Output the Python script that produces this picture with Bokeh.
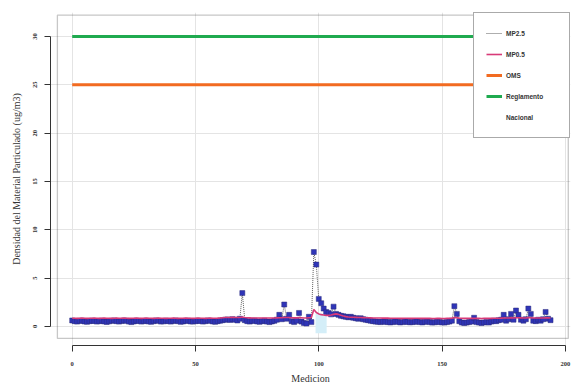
from bokeh.plotting import figure
from bokeh.models import Range1d, FixedTicker, BoxAnnotation, Legend, LegendItem, ColumnDataSource
from bokeh.embed import file_html
from bokeh.resources import INLINE

# ---- data ----
mp25 = [
    0.62, 0.55, 0.50, 0.58, 0.60, 0.52, 0.48, 0.55, 0.60, 0.57,
    0.50, 0.55, 0.60, 0.52, 0.47, 0.53, 0.58, 0.62, 0.55, 0.50,
    0.56, 0.62, 0.58, 0.50, 0.45, 0.52, 0.60, 0.57, 0.50, 0.55,
    0.60, 0.52, 0.48, 0.55, 0.62, 0.58, 0.50, 0.53, 0.60, 0.55,
    0.50, 0.56, 0.62, 0.55, 0.48, 0.52, 0.58, 0.60, 0.52, 0.50,
    0.55, 0.60, 0.57, 0.50, 0.55, 0.62, 0.58, 0.52, 0.48, 0.55,
    0.60, 0.65, 0.70, 0.72, 0.68, 0.75, 0.70, 0.62, 0.80, 3.45,
    0.65, 0.55, 0.50, 0.58, 0.60, 0.52, 0.48, 0.55, 0.60, 0.50,
    0.45, 0.52, 0.58, 0.70, 1.20, 0.75, 2.27, 0.80, 1.20, 0.55,
    0.45, 0.60, 1.40, 0.50, 0.35, 0.30, 1.00, 0.45, 7.70, 6.40,
    2.85, 2.40, 1.85, 1.50, 1.40, 1.25, 2.05, 1.30, 1.20, 1.10,
    1.05, 1.00, 0.95, 1.00, 0.90, 0.85, 0.80, 0.85, 0.75, 0.70,
    0.65, 0.60, 0.55, 0.50, 0.48, 0.45, 0.50, 0.48, 0.45, 0.42,
    0.45, 0.50, 0.48, 0.42, 0.45, 0.50, 0.47, 0.43, 0.45, 0.48,
    0.50, 0.45, 0.42, 0.48, 0.50, 0.45, 0.40, 0.43, 0.48, 0.45,
    0.42, 0.40, 0.45, 0.50, 0.60, 2.10, 1.30, 0.55, 0.40, 0.35,
    0.40, 0.45, 0.50, 0.90, 0.45, 0.40, 0.35, 0.42, 0.45, 0.40,
    0.50, 0.60, 0.55, 0.65, 0.70, 1.20, 0.60, 0.75, 1.30, 0.70,
    1.65, 1.20, 0.70, 0.60, 0.75, 1.85, 1.30, 0.60, 0.55, 0.70,
    0.60, 0.75, 1.50, 0.80, 0.65,
]
mp05 = [
    0.85, 0.85, 0.84, 0.85, 0.86, 0.85, 0.84, 0.85, 0.85, 0.86,
    0.85, 0.84, 0.85, 0.86, 0.85, 0.85, 0.84, 0.85, 0.86, 0.85,
    0.85, 0.86, 0.85, 0.84, 0.85, 0.85, 0.86, 0.85, 0.84, 0.85,
    0.86, 0.85, 0.85, 0.84, 0.85, 0.86, 0.85, 0.85, 0.84, 0.85,
    0.85, 0.86, 0.85, 0.84, 0.85, 0.85, 0.86, 0.85, 0.85, 0.84,
    0.85, 0.86, 0.85, 0.85, 0.84, 0.85, 0.86, 0.85, 0.85, 0.86,
    0.88, 0.90, 0.92, 0.93, 0.92, 0.94, 0.93, 0.92, 0.93, 0.98,
    0.92, 0.90, 0.89, 0.88, 0.88, 0.87, 0.87, 0.88, 0.88, 0.87,
    0.87, 0.88, 0.88, 0.89, 0.90, 0.90, 0.93, 0.92, 0.92, 0.90,
    0.89, 0.89, 0.91, 0.90, 0.88, 0.87, 0.90, 0.92, 1.75, 1.45,
    1.30, 1.22, 1.18, 1.15, 1.15, 1.18, 1.25, 1.30, 1.25, 1.15,
    1.08, 1.02, 0.98, 0.96, 0.95, 0.94, 0.93, 0.92, 0.91, 0.90,
    0.90, 0.89, 0.88, 0.88, 0.87, 0.87, 0.86, 0.86, 0.86, 0.85,
    0.85, 0.85, 0.85, 0.84, 0.84, 0.85, 0.85, 0.84, 0.84, 0.85,
    0.85, 0.84, 0.84, 0.84, 0.85, 0.84, 0.83, 0.83, 0.84, 0.84,
    0.83, 0.83, 0.84, 0.84, 0.85, 0.92, 0.90, 0.86, 0.85, 0.84,
    0.84, 0.84, 0.84, 0.85, 0.84, 0.84, 0.83, 0.84, 0.84, 0.84,
    0.84, 0.85, 0.85, 0.85, 0.86, 0.88, 0.87, 0.87, 0.89, 0.88,
    0.90, 0.90, 0.89, 0.88, 0.88, 0.91, 0.90, 0.88, 0.88, 0.88,
    0.88, 0.88, 0.90, 0.89, 0.88,
]
medicion = list(range(len(mp25)))
oms_limit = 25
reglamento_limit = 30
band_x0 = [98.7]
band_x1 = [103.2]
band_y0 = [-0.7]
band_y1 = [1.35]
x_ticks = [0, 50, 100, 150, 200]
y_ticks = [0, 5, 10, 15, 20, 25, 30]

src = ColumnDataSource(dict(x=medicion, mp25=mp25, mp05=mp05,
                            oms=[oms_limit] * len(medicion),
                            reg=[reglamento_limit] * len(medicion)))

p = figure(width=571, height=386, output_backend="svg", toolbar_location=None,
           x_range=Range1d(-8.8, 202.1), y_range=Range1d(-1.97, 32.48),
           min_border_left=50, min_border_right=1, min_border_top=12, min_border_bottom=41,
           outline_line_color=None, background_fill_color="white", border_fill_color="white")

# grid
p.xgrid.ticker = FixedTicker(ticks=x_ticks)
p.ygrid.ticker = FixedTicker(ticks=y_ticks)
for g in (p.xgrid, p.ygrid):
    g.grid_line_color = "#e4e4e4"
    g.grid_line_width = 1

# axes
for ax in (p.xaxis, p.yaxis):
    ax.axis_line_color = "#333333"
    ax.major_tick_line_color = "#333333"
    ax.major_tick_out = 6
    ax.major_tick_in = 0
    ax.minor_tick_line_color = None
    ax.major_label_text_font = "Liberation Serif"
    ax.major_label_text_font_size = "6.5px"
    ax.major_label_text_font_style = "bold"
    ax.major_label_text_color = "#333333"
    ax.axis_label_text_font = "Liberation Serif"
    ax.axis_label_text_font_size = "10px"
    ax.axis_label_text_font_style = "normal"
    ax.axis_label_text_color = "#333333"
p.xaxis.ticker = FixedTicker(ticks=x_ticks)
p.yaxis.ticker = FixedTicker(ticks=y_ticks)
p.xaxis.bounds = (0, 200)
p.yaxis.bounds = (0, 30)
p.yaxis.major_label_orientation = "vertical"
p.xaxis.major_label_standoff = 10
p.yaxis.major_label_standoff = 7
p.xaxis.axis_label_standoff = 4
p.yaxis.axis_label_standoff = 9
p.xaxis.axis_label = "Medicion"
p.yaxis.axis_label = "Densidad del Material Particulado (ug/m3)"

# highlight band
p.quad(left=band_x0, right=band_x1, bottom=band_y0, top=band_y1,
       fill_color="#d4eef8", line_color=None)

# limit lines
r_oms = p.line("x", "oms", source=src, line_color="#f26b21", line_width=3)
r_reg = p.line("x", "reg", source=src, line_color="#1faa4f", line_width=3)

# series
r_mp25 = p.line("x", "mp25", source=src, line_color="#333333", line_width=0.8, line_dash="1 1")
p.scatter("x", "mp25", source=src, marker="square", size=5,
          fill_color="#2f35b8", line_color="#2a2a7a", line_width=0.5)
r_mp05 = p.line("x", "mp05", source=src, line_color="#d83a78", line_width=1.6)
r_blank = p.line(x=[], y=[], line_alpha=0)

# plot box
p.add_layout(BoxAnnotation(left=-6.0, right=201.2, bottom=-1.24, top=32.2,
                           fill_alpha=0, line_color="#444444", line_width=1.3))

legend = Legend(items=[
    LegendItem(label="MP2.5", renderers=[r_mp25]),
    LegendItem(label="MP0.5", renderers=[r_mp05]),
    LegendItem(label="OMS", renderers=[r_oms]),
    LegendItem(label="Reglamento", renderers=[r_reg]),
    LegendItem(label="Nacional", renderers=[r_blank]),
], location=(423, 207), padding=12, spacing=5, glyph_height=16, glyph_width=16,
    label_standoff=4, label_width=51, label_height=16, margin=0,
    label_text_font="Liberation Sans", label_text_font_size="6.5px",
    label_text_font_style="bold", label_text_color="#333333",
    border_line_color="#555555", border_line_width=1.3,
    background_fill_color="white", background_fill_alpha=1)
p.add_layout(legend)

open("out.html", "w").write(file_html(p, INLINE))
